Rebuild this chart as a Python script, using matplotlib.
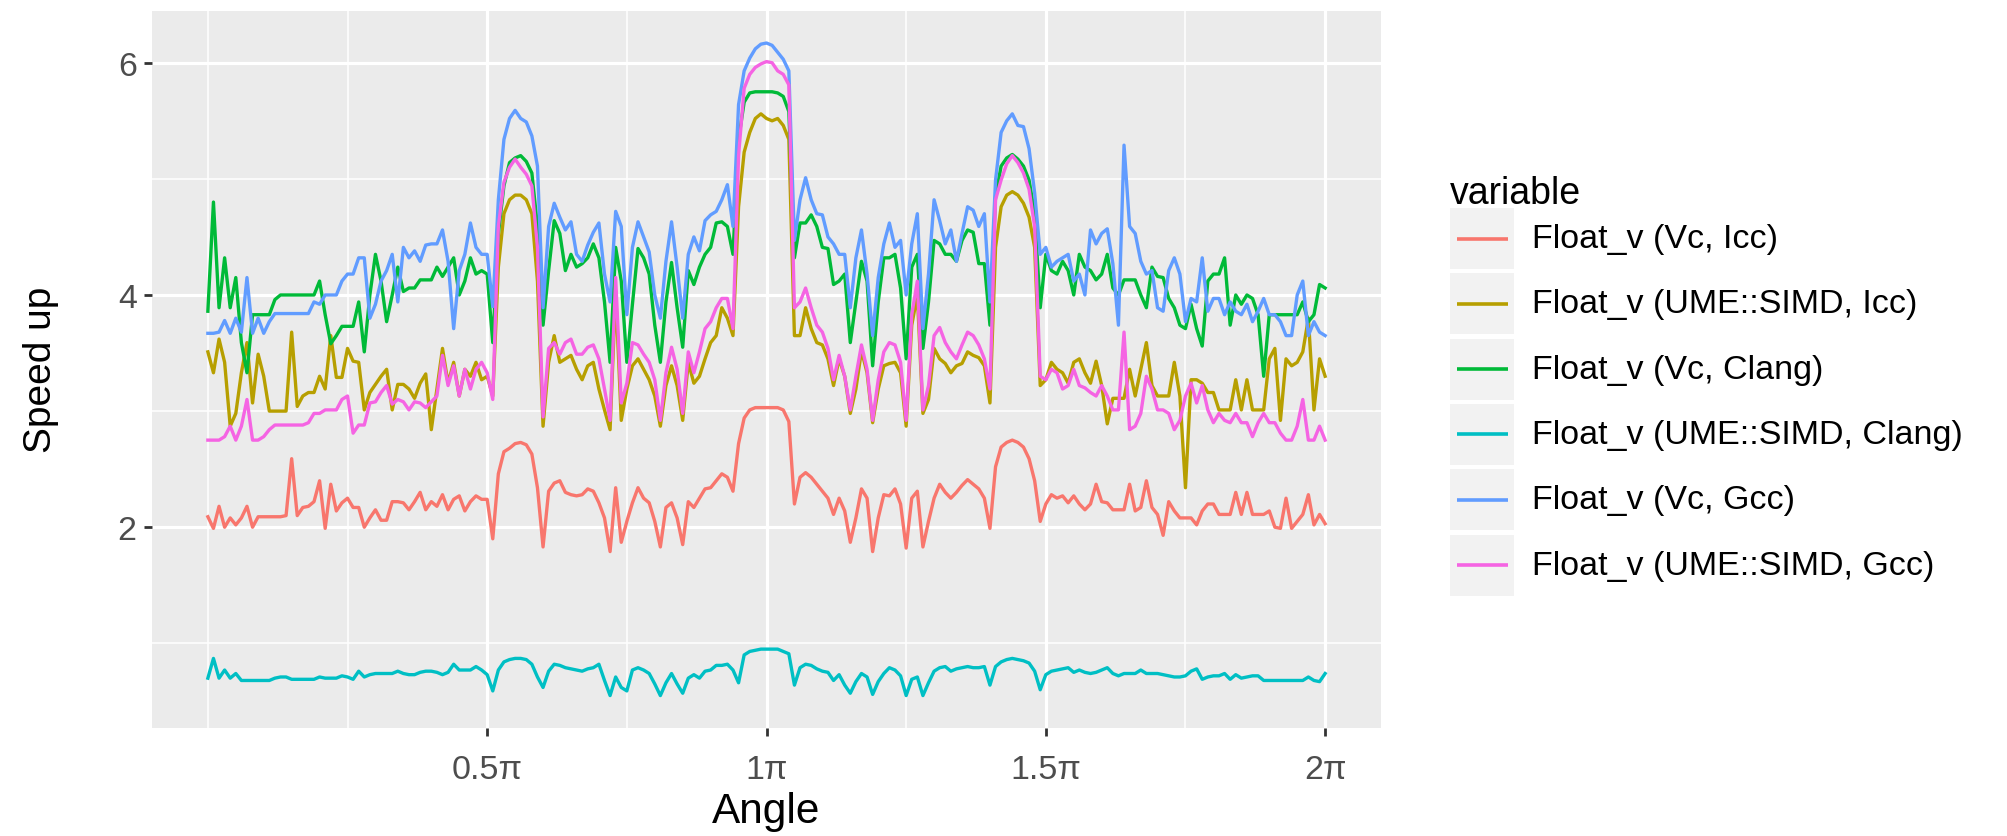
import numpy as np
import matplotlib
matplotlib.use("Agg")
import matplotlib.pyplot as plt
from matplotlib.patches import Rectangle

plt.rcParams['font.family'] = ['Liberation Sans', 'DejaVu Sans']

# angle grid, 0.01*pi steps from 0 to 2*pi
angle = np.linspace(0, 2 * np.pi, 201)

series_names = ['Float_v (Vc, Icc)', 'Float_v (UME::SIMD, Icc)', 'Float_v (Vc, Clang)',
                'Float_v (UME::SIMD, Clang)', 'Float_v (Vc, Gcc)', 'Float_v (UME::SIMD, Gcc)']
series_colors = ['#F8766D', '#B79F00', '#00BA38', '#00BFC4', '#619CFF', '#F564E3']

x_breaks = [0.5, 1.0, 1.5, 2.0]
x_labels = ['0.5\u03c0', '1\u03c0', '1.5\u03c0', '2\u03c0']
x_minor = [0.0, 0.25, 0.75, 1.25, 1.75]
y_breaks = [2, 4, 6]
y_minor = [1, 3, 5]

vc_icc = [2.09, 1.99, 2.18, 2.00, 2.08, 2.02, 2.08, 2.18, 2.00, 2.09,
          2.09, 2.09, 2.09, 2.09, 2.10, 2.59, 2.10, 2.17, 2.18, 2.22,
          2.40, 1.99, 2.37, 2.14, 2.21, 2.25, 2.17, 2.17, 2.00, 2.08,
          2.15, 2.06, 2.06, 2.22, 2.22, 2.21, 2.15, 2.22, 2.30, 2.15,
          2.22, 2.18, 2.28, 2.15, 2.24, 2.27, 2.14, 2.22, 2.27, 2.24,
          2.24, 1.90, 2.46, 2.65, 2.68, 2.72, 2.73, 2.71, 2.63, 2.34,
          1.83, 2.31, 2.38, 2.40, 2.30, 2.28, 2.27, 2.28, 2.33, 2.31,
          2.21, 2.08, 1.79, 2.34, 1.87, 2.05, 2.21, 2.34, 2.25, 2.21,
          2.05, 1.83, 2.17, 2.21, 2.08, 1.85, 2.22, 2.17, 2.25, 2.33,
          2.34, 2.40, 2.46, 2.43, 2.31, 2.72, 2.94, 3.01, 3.03, 3.03,
          3.03, 3.03, 3.03, 3.01, 2.91, 2.20, 2.43, 2.47, 2.43, 2.37,
          2.31, 2.25, 2.11, 2.25, 2.14, 1.87, 2.08, 2.33, 2.25, 1.79,
          2.08, 2.28, 2.27, 2.33, 2.20, 1.82, 2.25, 2.31, 1.83, 2.05,
          2.25, 2.37, 2.30, 2.25, 2.30, 2.36, 2.41, 2.37, 2.33, 2.25,
          1.99, 2.52, 2.69, 2.73, 2.75, 2.73, 2.69, 2.59, 2.40, 2.05,
          2.20, 2.28, 2.25, 2.27, 2.21, 2.27, 2.20, 2.15, 2.20, 2.37,
          2.22, 2.21, 2.15, 2.15, 2.15, 2.37, 2.14, 2.17, 2.40, 2.17,
          2.11, 1.93, 2.22, 2.14, 2.08, 2.08, 2.08, 2.02, 2.14, 2.20,
          2.20, 2.11, 2.11, 2.11, 2.30, 2.11, 2.30, 2.11, 2.11, 2.11,
          2.14, 2.00, 1.99, 2.25, 1.99, 2.05, 2.11, 2.28, 2.02, 2.11,
          2.03]

ume_icc = [3.51, 3.33, 3.62, 3.42, 2.87, 2.98, 3.33, 3.59, 3.07, 3.49,
           3.30, 3.00, 3.00, 3.00, 3.00, 3.68, 3.04, 3.13, 3.16, 3.16,
           3.30, 3.19, 3.65, 3.29, 3.29, 3.54, 3.43, 3.42, 3.01, 3.16,
           3.23, 3.30, 3.36, 3.01, 3.23, 3.23, 3.19, 3.11, 3.24, 3.32,
           2.84, 3.19, 3.54, 3.24, 3.42, 3.13, 3.36, 3.30, 3.42, 3.27,
           3.30, 3.13, 4.24, 4.70, 4.82, 4.86, 4.86, 4.82, 4.70, 4.12,
           2.87, 3.42, 3.65, 3.42, 3.45, 3.48, 3.36, 3.27, 3.39, 3.42,
           3.19, 3.01, 2.84, 4.03, 2.92, 3.19, 3.39, 3.45, 3.36, 3.27,
           3.13, 2.87, 3.22, 3.39, 3.22, 2.92, 3.42, 3.24, 3.30, 3.45,
           3.59, 3.65, 3.89, 3.80, 3.65, 4.76, 5.23, 5.40, 5.52, 5.56,
           5.52, 5.50, 5.52, 5.46, 5.34, 3.65, 3.65, 3.89, 3.71, 3.59,
           3.57, 3.45, 3.22, 3.45, 3.30, 2.98, 3.19, 3.52, 3.33, 2.90,
           3.19, 3.39, 3.41, 3.42, 3.33, 2.87, 3.74, 4.00, 2.98, 3.10,
           3.54, 3.45, 3.41, 3.33, 3.39, 3.41, 3.51, 3.48, 3.46, 3.39,
           3.07, 4.41, 4.76, 4.86, 4.89, 4.86, 4.79, 4.67, 4.41, 3.22,
           3.27, 3.42, 3.36, 3.33, 3.24, 3.42, 3.45, 3.33, 3.24, 3.43,
           3.22, 2.89, 3.11, 3.11, 3.11, 3.36, 3.13, 3.36, 3.59, 3.22,
           3.13, 3.13, 3.13, 3.42, 3.13, 2.34, 3.27, 3.27, 3.24, 3.16,
           3.16, 3.01, 3.01, 3.01, 3.27, 3.01, 3.27, 3.01, 3.01, 3.01,
           3.45, 3.54, 2.92, 3.45, 3.39, 3.42, 3.51, 3.80, 3.01, 3.45,
           3.30]

vc_clang = [3.86, 4.80, 3.89, 4.32, 3.89, 4.15, 3.59, 3.33, 3.83, 3.83,
            3.83, 3.83, 3.96, 4.00, 4.00, 4.00, 4.00, 4.00, 4.00, 4.00,
            4.12, 3.83, 3.58, 3.65, 3.73, 3.73, 3.73, 3.94, 3.51, 4.00,
            4.35, 4.12, 3.77, 4.00, 4.24, 4.03, 4.06, 4.06, 4.13, 4.13,
            4.13, 4.24, 4.16, 4.24, 4.32, 4.00, 4.12, 4.32, 4.18, 4.21,
            4.18, 3.59, 4.53, 4.94, 5.14, 5.18, 5.20, 5.15, 5.05, 4.59,
            3.74, 4.21, 4.64, 4.53, 4.21, 4.35, 4.24, 4.27, 4.32, 4.44,
            4.32, 3.94, 3.42, 4.41, 4.12, 3.42, 3.92, 4.40, 4.32, 4.18,
            3.74, 3.42, 3.94, 4.28, 3.89, 3.55, 4.21, 4.09, 4.24, 4.35,
            4.41, 4.62, 4.63, 4.59, 4.35, 5.34, 5.66, 5.74, 5.75, 5.75,
            5.75, 5.75, 5.74, 5.71, 5.58, 4.32, 4.62, 4.62, 4.69, 4.59,
            4.41, 4.40, 4.09, 4.12, 4.18, 3.59, 3.94, 4.29, 4.12, 3.39,
            3.94, 4.32, 4.32, 4.35, 4.06, 3.45, 4.24, 4.35, 3.54, 3.94,
            4.47, 4.44, 4.35, 4.35, 4.29, 4.47, 4.56, 4.54, 4.27, 4.27,
            3.74, 4.85, 5.11, 5.18, 5.21, 5.17, 5.11, 4.99, 4.70, 3.89,
            4.35, 4.21, 4.18, 4.29, 4.21, 4.00, 4.35, 4.24, 4.21, 4.13,
            4.18, 4.35, 4.06, 4.00, 4.13, 4.13, 4.13, 4.00, 3.89, 4.24,
            4.16, 4.15, 3.97, 3.89, 3.74, 3.71, 3.92, 3.71, 3.56, 4.12,
            4.18, 4.18, 4.32, 3.74, 4.00, 3.92, 4.00, 3.97, 3.83, 3.30,
            3.83, 3.83, 3.83, 3.83, 3.83, 3.83, 3.94, 3.77, 3.83, 4.09,
            4.06]

ume_clang = [0.70, 0.87, 0.70, 0.77, 0.70, 0.74, 0.68, 0.68, 0.68, 0.68,
             0.68, 0.68, 0.70, 0.71, 0.71, 0.69, 0.69, 0.69, 0.69, 0.69,
             0.71, 0.70, 0.70, 0.70, 0.72, 0.71, 0.69, 0.76, 0.71, 0.73,
             0.74, 0.74, 0.74, 0.74, 0.76, 0.74, 0.73, 0.73, 0.75, 0.76,
             0.76, 0.75, 0.73, 0.75, 0.82, 0.77, 0.77, 0.77, 0.80, 0.77,
             0.73, 0.59, 0.77, 0.84, 0.86, 0.87, 0.87, 0.86, 0.82, 0.71,
             0.62, 0.76, 0.82, 0.81, 0.79, 0.78, 0.77, 0.76, 0.78, 0.79,
             0.82, 0.68, 0.55, 0.71, 0.62, 0.59, 0.77, 0.79, 0.77, 0.74,
             0.65, 0.55, 0.66, 0.74, 0.65, 0.57, 0.70, 0.73, 0.70, 0.76,
             0.77, 0.81, 0.81, 0.82, 0.77, 0.66, 0.90, 0.93, 0.94, 0.95,
             0.95, 0.95, 0.95, 0.93, 0.91, 0.64, 0.79, 0.82, 0.81, 0.78,
             0.76, 0.75, 0.68, 0.73, 0.64, 0.57, 0.67, 0.74, 0.71, 0.56,
             0.67, 0.74, 0.79, 0.77, 0.72, 0.55, 0.69, 0.71, 0.55, 0.66,
             0.76, 0.79, 0.80, 0.76, 0.78, 0.79, 0.80, 0.79, 0.79, 0.80,
             0.64, 0.80, 0.84, 0.86, 0.87, 0.86, 0.85, 0.83, 0.76, 0.60,
             0.73, 0.76, 0.77, 0.78, 0.79, 0.75, 0.77, 0.75, 0.74, 0.75,
             0.77, 0.79, 0.74, 0.72, 0.74, 0.74, 0.74, 0.77, 0.74, 0.74,
             0.74, 0.73, 0.72, 0.71, 0.71, 0.72, 0.76, 0.78, 0.69, 0.71,
             0.72, 0.72, 0.74, 0.69, 0.73, 0.70, 0.71, 0.72, 0.72, 0.68,
             0.68, 0.68, 0.68, 0.68, 0.68, 0.68, 0.68, 0.71, 0.68, 0.67,
             0.74]

vc_gcc = [3.67, 3.67, 3.68, 3.78, 3.67, 3.80, 3.68, 4.15, 3.67, 3.80,
          3.67, 3.77, 3.84, 3.84, 3.84, 3.84, 3.84, 3.84, 3.84, 3.94,
          3.92, 4.00, 4.00, 4.00, 4.12, 4.18, 4.18, 4.32, 4.32, 3.80,
          3.92, 4.12, 4.21, 4.35, 3.94, 4.41, 4.32, 4.38, 4.29, 4.43,
          4.44, 4.44, 4.56, 4.29, 3.71, 4.21, 4.35, 4.62, 4.41, 4.35,
          4.35, 3.90, 4.82, 5.34, 5.52, 5.59, 5.52, 5.49, 5.37, 5.11,
          3.89, 4.59, 4.79, 4.67, 4.56, 4.63, 4.35, 4.29, 4.43, 4.54,
          4.62, 4.18, 3.94, 4.72, 4.59, 3.83, 4.41, 4.63, 4.50, 4.37,
          4.00, 3.80, 4.29, 4.63, 4.24, 3.80, 4.35, 4.50, 4.38, 4.64,
          4.69, 4.72, 4.82, 4.95, 4.59, 5.64, 5.93, 6.04, 6.12, 6.16,
          6.17, 6.15, 6.09, 6.03, 5.93, 4.47, 4.82, 5.01, 4.82, 4.70,
          4.69, 4.50, 4.44, 4.35, 4.35, 3.89, 4.32, 4.56, 4.18, 3.65,
          4.15, 4.44, 4.62, 4.41, 4.47, 4.00, 4.44, 4.70, 3.71, 4.18,
          4.82, 4.64, 4.44, 4.56, 4.29, 4.53, 4.76, 4.73, 4.59, 4.70,
          3.94, 4.99, 5.40, 5.50, 5.56, 5.46, 5.45, 5.26, 4.88, 4.35,
          4.41, 4.24, 4.29, 4.32, 4.35, 4.12, 4.18, 4.00, 4.56, 4.44,
          4.53, 4.57, 4.27, 3.74, 5.29, 4.59, 4.53, 4.29, 4.18, 4.21,
          3.89, 3.86, 4.21, 4.32, 4.18, 3.77, 3.97, 3.94, 4.32, 3.86,
          3.97, 3.97, 3.83, 3.94, 3.86, 3.83, 3.92, 3.77, 3.86, 3.97,
          3.83, 3.83, 3.77, 3.65, 3.65, 4.00, 4.12, 3.65, 3.77, 3.68,
          3.65]

ume_gcc = [2.75, 2.75, 2.75, 2.78, 2.87, 2.75, 2.87, 3.10, 2.75, 2.75,
           2.78, 2.84, 2.88, 2.88, 2.88, 2.88, 2.88, 2.88, 2.90, 2.98,
           2.98, 3.01, 3.01, 3.01, 3.10, 3.13, 2.81, 2.88, 2.88, 3.07,
           3.08, 3.16, 3.22, 3.06, 3.10, 3.08, 3.01, 3.08, 3.07, 3.03,
           3.08, 3.13, 3.48, 3.22, 3.39, 3.13, 3.36, 3.19, 3.36, 3.42,
           3.33, 3.10, 4.59, 4.97, 5.10, 5.17, 5.10, 5.04, 4.94, 4.41,
           2.95, 3.54, 3.59, 3.49, 3.59, 3.62, 3.49, 3.49, 3.55, 3.57,
           3.45, 3.19, 2.92, 4.15, 3.07, 3.24, 3.59, 3.57, 3.49, 3.42,
           3.27, 2.92, 3.33, 3.55, 3.36, 2.98, 3.51, 3.33, 3.51, 3.71,
           3.77, 3.89, 3.97, 3.97, 3.71, 5.20, 5.78, 5.90, 5.96, 5.99,
           6.01, 6.00, 5.93, 5.90, 5.81, 3.89, 3.94, 4.06, 3.89, 3.74,
           3.68, 3.54, 3.27, 3.48, 3.30, 3.01, 3.30, 3.57, 3.36, 2.92,
           3.27, 3.51, 3.59, 3.57, 3.42, 2.92, 3.83, 4.12, 3.01, 3.22,
           3.65, 3.72, 3.59, 3.51, 3.45, 3.57, 3.68, 3.65, 3.57, 3.45,
           3.19, 4.82, 4.99, 5.13, 5.20, 5.14, 5.05, 4.91, 4.59, 3.30,
           3.27, 3.36, 3.33, 3.19, 3.22, 3.36, 3.22, 3.20, 3.16, 3.13,
           3.22, 3.13, 3.01, 3.01, 3.68, 2.84, 2.87, 2.98, 3.30, 3.19,
           3.01, 3.01, 2.98, 2.84, 2.92, 3.13, 3.24, 3.07, 3.22, 3.01,
           2.90, 2.98, 2.92, 2.90, 2.98, 2.90, 2.90, 2.78, 2.90, 2.98,
           2.90, 2.90, 2.81, 2.75, 2.75, 2.87, 3.10, 2.75, 2.75, 2.87,
           2.75]

series = [vc_icc, ume_icc, vc_clang, ume_clang, vc_gcc, ume_gcc]

fig = plt.figure(figsize=(20.08, 8.37), dpi=100)
ax = fig.add_axes([152 / 2008, 1 - 728.5 / 837, 1229 / 2008, 717 / 837])
ax.set_facecolor('#EBEBEB')
for s in ax.spines.values():
    s.set_visible(False)

for vals, col in zip(series, series_colors):
    ax.plot(angle, vals, color=col, lw=2.4, zorder=3)

ax.set_xlim(-0.1 * np.pi, 2.1 * np.pi)
ax.set_ylim(0.275, 6.45)
ax.set_xticks(np.array(x_breaks) * np.pi)
ax.set_xticklabels(x_labels)
ax.set_xticks(np.array(x_minor) * np.pi, minor=True)
ax.set_yticks(y_breaks)
ax.set_yticks(y_minor, minor=True)
ax.grid(which='major', color='white', lw=2.3)
ax.grid(which='minor', color='white', lw=1.1)
ax.set_axisbelow(True)
ax.tick_params(which='major', length=6, width=2.0, color='#333333',
               labelsize=24.5, labelcolor='#4D4D4D')
ax.tick_params(axis='x', which='major', pad=13)
ax.tick_params(axis='y', which='major', pad=5)
ax.tick_params(which='minor', length=0)

ax.set_xlabel('Angle', fontsize=30.5, va='center')
ax.xaxis.set_label_coords(0.5, (728.5 - 812) / 717)
ax.set_ylabel('Speed up', fontsize=28, va='center')
ax.yaxis.set_label_coords((41 - 152) / 1229, 0.5)

# legend drawn in pixel coordinates
lax = fig.add_axes([0, 0, 1, 1])
lax.set_xlim(0, 2008)
lax.set_ylim(837, 0)
lax.axis('off')
lax.text(1450, 194, 'variable', fontsize=27, ha='left', va='center')
for k, (name, col) in enumerate(zip(series_names, series_colors)):
    yc = 239.5 + 65.3 * k
    lax.add_patch(Rectangle((1450, yc - 30.5), 64, 61, facecolor='#F2F2F2', edgecolor='none'))
    lax.plot([1457, 1508], [yc, yc], color=col, lw=2.6, solid_capstyle='butt')
    lax.text(1532, yc, name, fontsize=24.5, ha='left', va='center')

fig.savefig('out.png', dpi=100)
